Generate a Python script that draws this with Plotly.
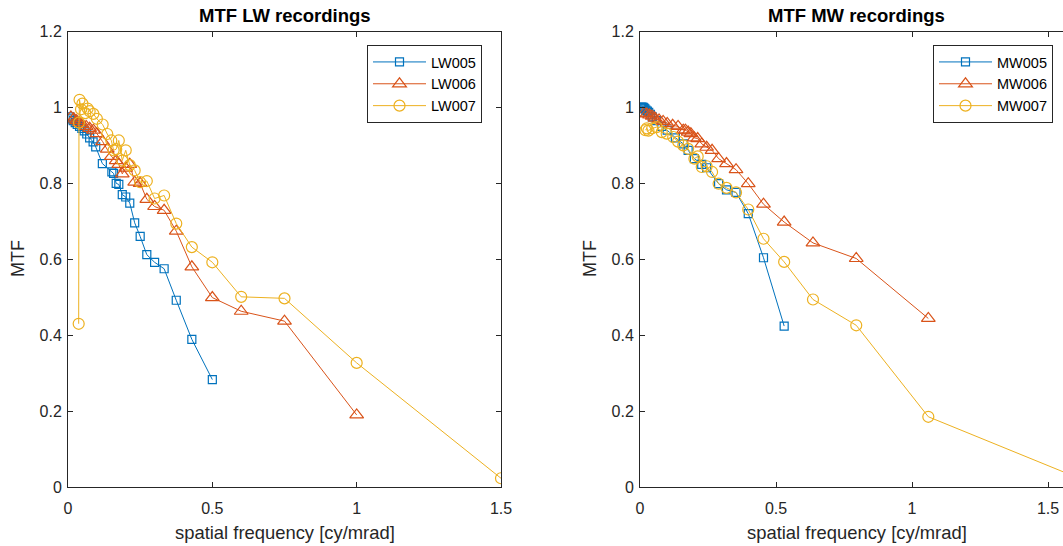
import plotly.graph_objects as go

# ---------------- data ----------------
lw005_x = [0.5, 0.429, 0.375, 0.333, 0.3, 0.273, 0.25, 0.231, 0.214, 0.2, 0.188, 0.176, 0.167,
           0.158, 0.152, 0.119, 0.096, 0.087, 0.075, 0.065, 0.056, 0.048, 0.04, 0.032, 0.025,
           0.018, 0.012, 0.006]
lw005_y = [0.283, 0.389, 0.492, 0.575, 0.592, 0.612, 0.660, 0.696, 0.748, 0.764, 0.770, 0.797, 0.800,
           0.826, 0.830, 0.852, 0.896, 0.909, 0.920, 0.930, 0.938, 0.945, 0.950, 0.955, 0.960,
           0.965, 0.970, 0.975]

lw006_x = [1.0, 0.75, 0.6, 0.5, 0.429, 0.375, 0.333, 0.3, 0.273, 0.25, 0.231, 0.214, 0.2, 0.188,
           0.176, 0.167, 0.15, 0.136, 0.12, 0.1, 0.088, 0.075, 0.063, 0.05, 0.04, 0.03, 0.02, 0.01]
lw006_y = [0.19, 0.437, 0.463, 0.499, 0.58, 0.674, 0.729, 0.739, 0.758, 0.80, 0.803, 0.85, 0.84, 0.825,
           0.85, 0.86, 0.871, 0.89, 0.91, 0.931, 0.94, 0.945, 0.95, 0.955, 0.96, 0.965, 0.97, 0.975]

lw007_x = [1.5, 1.0, 0.75, 0.6, 0.5, 0.429, 0.375, 0.333, 0.3, 0.273, 0.25, 0.231, 0.214, 0.2,
           0.188, 0.176, 0.167, 0.158, 0.15, 0.136, 0.12, 0.1, 0.088, 0.075, 0.068, 0.06, 0.05,
           0.045, 0.04, 0.038, 0.037]
lw007_y = [0.023, 0.327, 0.497, 0.501, 0.592, 0.632, 0.694, 0.768, 0.76, 0.806, 0.803, 0.834, 0.848,
           0.887, 0.86, 0.913, 0.89, 0.887, 0.913, 0.93, 0.955, 0.97, 0.983, 0.99, 0.997, 0.985,
           1.01, 0.995, 1.02, 0.96, 0.43]

mw005_x = [0.53, 0.454, 0.398, 0.353, 0.318, 0.289, 0.245, 0.227, 0.2, 0.177, 0.159, 0.13, 0.1,
           0.08, 0.06, 0.045, 0.038, 0.032, 0.027, 0.022, 0.018, 0.015, 0.012, 0.009, 0.007,
           0.005, 0.003]
mw005_y = [0.424, 0.604, 0.72, 0.776, 0.783, 0.799, 0.841, 0.85, 0.865, 0.887, 0.904, 0.92, 0.94,
           0.95, 0.965, 0.975, 0.982, 0.987, 0.99, 0.993, 0.996, 0.998, 1.0, 1.0, 1.0, 1.0, 1.0]

mw006_x = [1.06, 0.795, 0.636, 0.53, 0.454, 0.398, 0.353, 0.318, 0.289, 0.265, 0.245, 0.227, 0.212,
           0.199, 0.187, 0.177, 0.167, 0.159, 0.14, 0.12, 0.1, 0.085, 0.07, 0.055, 0.045, 0.035,
           0.025, 0.015]
mw006_y = [0.444, 0.602, 0.643, 0.698, 0.745, 0.799, 0.836, 0.852, 0.865, 0.887, 0.895, 0.904, 0.918,
           0.92, 0.931, 0.935, 0.94, 0.94, 0.95, 0.953, 0.958, 0.963, 0.967, 0.972, 0.977, 0.98,
           0.983, 0.985]

mw007_x = [1.59, 1.06, 0.795, 0.636, 0.53, 0.454, 0.398, 0.353, 0.318, 0.289, 0.265, 0.245, 0.227,
           0.212, 0.2, 0.177, 0.159, 0.14, 0.122, 0.098, 0.08, 0.061, 0.045, 0.031, 0.025, 0.02]
mw007_y = [0.03, 0.185, 0.426, 0.494, 0.593, 0.654, 0.731, 0.776, 0.788, 0.799, 0.83, 0.845, 0.843,
           0.871, 0.865, 0.891, 0.9, 0.91, 0.922, 0.931, 0.935, 0.948, 0.945, 0.939, 0.945, 0.94]

y_ticks = [0, 0.2, 0.4, 0.6, 0.8, 1.0, 1.2]
y_ticktext = ["0", "0.2", "0.4", "0.6", "0.8", "1", "1.2"]
x_ticks = [0, 0.5, 1.0, 1.5]
x_ticktext = ["0", "0.5", "1", "1.5"]

# ---------------- style ----------------
C1, C2, C3 = "#0072BD", "#D95319", "#EDB120"
AX = "#262626"
FONT = "Liberation Sans, Arial, sans-serif"
W, H = 1063, 546

fig = go.Figure()

def add(x, y, name, color, symbol, size, xa, ya, leg):
    fig.add_trace(go.Scatter(
        x=x, y=y, name=name, mode="lines+markers", xaxis=xa, yaxis=ya, legend=leg,
        line=dict(color=color, width=1),
        marker=dict(symbol=symbol, size=size, color=color,
                    line=dict(color=color, width=1.2)),
    ))

add(lw005_x, lw005_y, "LW005", C1, "square-open", 8, "x", "y", "legend")
add(lw006_x, lw006_y, "LW006", C2, "triangle-up-open", 12, "x", "y", "legend")
add(lw007_x, lw007_y, "LW007", C3, "circle-open", 11, "x", "y", "legend")
add(mw005_x, mw005_y, "MW005", C1, "square-open", 8, "x2", "y2", "legend2")
add(mw006_x, mw006_y, "MW006", C2, "triangle-up-open", 12, "x2", "y2", "legend2")
add(mw007_x, mw007_y, "MW007", C3, "circle-open", 11, "x2", "y2", "legend2")

y_dom = [(H - 487) / H, (H - 31.5) / H]
common_x = dict(showgrid=False, zeroline=False, showline=True, linecolor=AX, linewidth=1,
                mirror="allticks", ticks="inside", ticklen=5, tickcolor=AX, automargin=False,
                tickvals=x_ticks, ticktext=x_ticktext, ticklabelstandoff=7,
                tickfont=dict(family=FONT, size=16, color=AX))
common_y = dict(showgrid=False, zeroline=False, showline=True, linecolor=AX, linewidth=1,
                ticks="inside", ticklen=5, tickcolor=AX, range=[0, 1.2], automargin=False,
                tickvals=y_ticks, ticktext=y_ticktext, domain=y_dom, ticklabelstandoff=2,
                tickfont=dict(family=FONT, size=16, color=AX))

legend_common = dict(xanchor="left", yanchor="top", bgcolor="white", bordercolor=AX,
                     borderwidth=1, tracegroupgap=0, itemwidth=53,
                     font=dict(family=FONT, size=14.5, color="black"))

fig.update_layout(
    width=W, height=H, margin=dict(l=0, r=0, t=0, b=0, autoexpand=False),
    paper_bgcolor="white", plot_bgcolor="white",
    xaxis=dict(common_x, domain=[68 / W, 501 / W], range=[0, 1.5], anchor="y"),
    yaxis=dict(common_y, anchor="x", mirror="allticks"),
    xaxis2=dict(common_x, domain=[640 / W, 1.0], range=[0, (W - 640) / 272], anchor="y2"),
    yaxis2=dict(common_y, anchor="x2", mirror=False),
    legend=dict(legend_common, x=367 / W, y=(H - 45) / H),
    legend2=dict(legend_common, x=933 / W, y=(H - 45) / H),
    showlegend=True,
)

titles = [("MTF LW recordings", (68 + 501) / 2), ("MTF MW recordings", (640 + 1073) / 2)]
for txt, cx in titles:
    fig.add_annotation(text="<b>%s</b>" % txt, x=cx / W, y=(H - 15.5) / H, xref="paper", yref="paper",
                       showarrow=False, font=dict(family=FONT, size=18.5, color="black"),
                       xanchor="center", yanchor="middle")
    fig.add_annotation(text="spatial frequency [cy/mrad]", x=cx / W, y=(H - 532) / H,
                       xref="paper", yref="paper", showarrow=False,
                       font=dict(family=FONT, size=18.4, color=AX), xanchor="center", yanchor="middle")
for lx in (18, 590):
    fig.add_annotation(text="MTF", x=lx / W, y=(H - 259) / H, xref="paper", yref="paper",
                       showarrow=False, textangle=-90,
                       font=dict(family=FONT, size=18, color=AX), xanchor="center", yanchor="middle")

fig.write_html("out.html")
